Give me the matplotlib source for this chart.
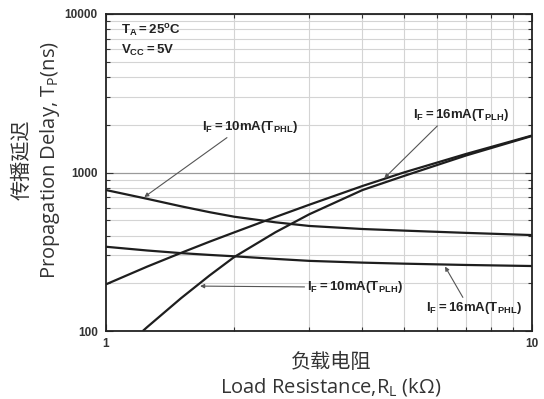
import matplotlib
matplotlib.use("Agg")
import matplotlib.pyplot as plt
from matplotlib.ticker import LogLocator, NullFormatter, FixedLocator

plt.rcParams['mathtext.fontset'] = 'custom'
plt.rcParams['mathtext.rm'] = 'Open Sans'
plt.rcParams['mathtext.it'] = 'Open Sans'
plt.rcParams['mathtext.bf'] = 'Liberation Sans:bold'

# Load resistance (kOhm)
r_load = [1, 1.25, 1.5, 1.75, 2, 2.5, 3, 4, 5, 7, 10]
# Propagation delay (ns)
tphl_10ma = [775, 682, 612, 562, 526, 485, 460, 440, 430, 416, 403]
tphl_16ma = [340, 322, 310, 302, 296, 285, 277, 270, 266, 261, 257]
tplh_16ma = [197, 255, 311, 366, 419, 524, 626, 822, 1000, 1309, 1711]
r_load_10ma_plh = [1.22, 1.25, 1.5, 1.75, 2, 2.5, 3, 4, 5, 7, 10]
tplh_10ma = [100, 106, 161, 224, 293, 420, 545, 775, 950, 1280, 1700]

x_ticks = [1, 10]
x_tick_labels = ["1", "10"]
y_ticks = [100, 1000, 10000]
y_tick_labels = ["100", "1000", "10000"]

fig = plt.figure(figsize=(5.44, 3.99), dpi=100)
ax = fig.add_axes([106 / 544, 68 / 399, 426 / 544, 317 / 399])

line_kw = dict(color="#1e1e1e", lw=1.6, solid_capstyle="butt",
               solid_joinstyle="round")
ax.plot(r_load, tphl_10ma, **line_kw)
ax.plot(r_load, tphl_16ma, **line_kw)
ax.plot(r_load, tplh_16ma, **line_kw)
ax.plot(r_load_10ma_plh, tplh_10ma, **line_kw)

ax.set_xscale("log")
ax.set_yscale("log")
ax.set_xlim(1, 10)
ax.set_ylim(100, 10000)

ax.xaxis.set_major_locator(FixedLocator(x_ticks))
ax.set_xticklabels(x_tick_labels)
ax.yaxis.set_major_locator(FixedLocator(y_ticks))
ax.set_yticklabels(y_tick_labels)
ax.xaxis.set_minor_locator(LogLocator(base=10, subs=range(2, 10)))
ax.yaxis.set_minor_locator(LogLocator(base=10, subs=range(2, 10)))
ax.xaxis.set_minor_formatter(NullFormatter())
ax.yaxis.set_minor_formatter(NullFormatter())

ax.grid(which="minor", color="#d4d4d4", lw=0.8)
ax.grid(which="major", axis="y", color="#9a9a9a", lw=0.9)
ax.set_axisbelow(True)

ax.tick_params(which="both", direction="in", top=True, right=True,
               color="#333333", width=0.8)
ax.tick_params(which="major", length=5)
ax.tick_params(which="minor", length=3)
ax.tick_params(axis="y", which="major", pad=6)
ax.tick_params(axis="x", which="major", pad=5)
for lbl in ax.get_xticklabels() + ax.get_yticklabels():
    lbl.set_fontfamily("Liberation Sans")
    lbl.set_fontweight("bold")
    lbl.set_fontsize(8.5)
    lbl.set_color("#333333")
for s in ax.spines.values():
    s.set_color("#222222")
    s.set_linewidth(1.3)

label_font = ["Open Sans", "Noto Sans CJK SC"]
ax.set_xlabel("负载电阻\nLoad Resistance,R$_\\mathrm{L}$ (kΩ)", family=label_font,
              fontsize=14.5, color="#333333", linespacing=1.2)
ax.xaxis.set_label_coords(0.528, -0.07, transform=ax.transAxes)
ax.xaxis.label.set_verticalalignment("top")
ax.set_ylabel("传播延迟\nPropagation Delay, T$_\\mathrm{P}$(ns)", family=label_font,
              fontsize=14.5, color="#333333", linespacing=1.3)
ax.yaxis.set_label_coords(-0.103, 0.54, transform=ax.transAxes)

ann_kw = dict(fontsize=9.5, color="#222222", ha="center", va="center",
              textcoords="axes fraction")

def arrow(relpos):
    return dict(arrowstyle="-|>", color="#555555", lw=0.8,
                mutation_scale=6, relpos=relpos, shrinkA=0, shrinkB=0)

ax.annotate(r"$\mathbf{I_{F}{=}10mA(T_{PHL})}$", xy=(1.23, 700),
            xytext=(0.338, 0.644), arrowprops=arrow((0.3, 0.0)), **ann_kw)
ax.annotate(r"$\mathbf{I_{F}{=}16mA(T_{PLH})}$", xy=(4.5, 920),
            xytext=(0.834, 0.681), arrowprops=arrow((0.28, 0.0)), **ann_kw)
ax.annotate(r"$\mathbf{I_{F}{=}10mA(T_{PLH})}$", xy=(1.663, 192),
            xytext=(0.585, 0.139), arrowprops=arrow((0.0, 0.5)), **ann_kw)
ax.annotate(r"$\mathbf{I_{F}{=}16mA(T_{PHL})}$", xy=(6.25, 255),
            xytext=(0.864, 0.072), arrowprops=arrow((0.4, 1.0)), **ann_kw)

ax.text(0.035, 0.945, r"$\mathbf{T_{A}{=}25^{o}C}$", transform=ax.transAxes,
        fontsize=9.5, color="#222222", va="center", ha="left")
ax.text(0.035, 0.885, r"$\mathbf{V_{CC}{=}5V}$", transform=ax.transAxes,
        fontsize=9.5, color="#222222", va="center", ha="left")

fig.savefig("out.png", dpi=100)
